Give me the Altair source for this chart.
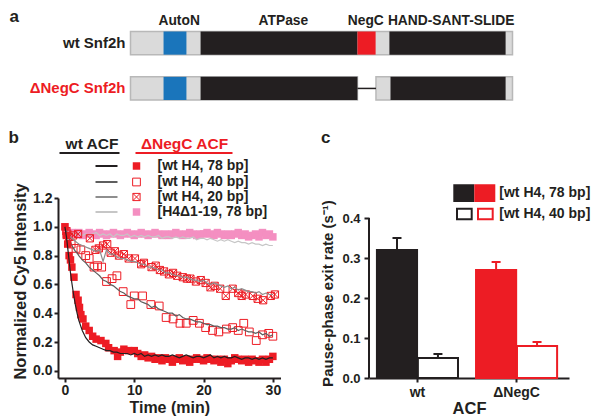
import altair as alt
import pandas as pd

FONT = "Liberation Sans"
BLACK = "#231f20"
RED = "#ed1c24"
BLUE = "#1a75bb"
PINK = "#f48fc1"
G_DARK = "#5e5e5e"
G_MID = "#8e8e8e"
G_LIGHT = "#c6c6c6"
BG_FILL = "#dadada"
BG_STROKE = "#b8b8b8"

# ---------------- panel a : domain diagram (residue coordinates) ----------------
CONSTRUCTS = ["wt Snf2h", "ΔNegC Snf2h"]
BG_CONSTRUCT = ["wt Snf2h", "ΔNegC Snf2h", "ΔNegC Snf2h"]
BG_START = [0, 0, 676]
BG_END = [1052, 625, 1052]
DOMAIN_NAMES = ["AutoN", "ATPase", "NegC", "HAND-SANT-SLIDE"]
HEADER_POS = [134, 421, 648, 883]          # label anchors, residue units
DOM_CONSTRUCT = ["wt Snf2h", "wt Snf2h", "wt Snf2h", "wt Snf2h",
                 "ΔNegC Snf2h", "ΔNegC Snf2h", "ΔNegC Snf2h"]
DOM_NAME = ["AutoN", "ATPase", "NegC", "HAND-SANT-SLIDE",
            "AutoN", "ATPase", "HAND-SANT-SLIDE"]
DOM_START = [91, 193, 625, 713, 91, 193, 716]
DOM_END = [154, 625, 675, 1033, 154, 625, 1033]
LINK_CONSTRUCT = ["ΔNegC Snf2h"]
LINK_START = [625]
LINK_END = [676]

# ---------------- panel b : kinetics ----------------
ACF_HEADERS = ["wt ACF", "ΔNegC ACF"]
SERIES = ["[wt H4, 78 bp]", "[wt H4, 40 bp]", "[wt H4, 20 bp]", "[H4Δ1-19, 78 bp]"]
LINE_T = [0, 0.25, 0.5, 0.75, 1, 1.25, 1.5, 1.75, 2, 2.5,
          3, 3.5, 4, 4.5, 5, 5.5, 6, 6.5, 7, 7.5,
          8, 8.5, 9, 9.5, 10, 10.5, 11, 11.5, 12, 12.5,
          13, 13.5, 14, 14.5, 15, 15.5, 16, 16.5, 17, 17.5,
          18, 18.5, 19, 19.5, 20, 20.5, 21, 21.5, 22, 22.5,
          23, 23.5, 24, 24.5, 25, 25.5, 26, 26.5, 27, 27.5,
          28, 28.5, 29, 29.5, 30]
WT_78 = [1.00, 0.92, 0.81, 0.70, 0.61, 0.53, 0.46, 0.40, 0.35, 0.28,
         0.23, 0.20, 0.18, 0.17, 0.16, 0.15, 0.14, 0.14, 0.13, 0.13,
         0.12, 0.12, 0.12, 0.11, 0.12, 0.11, 0.12, 0.10, 0.11, 0.10,
         0.11, 0.10, 0.11, 0.10, 0.10, 0.11, 0.10, 0.09, 0.10, 0.11,
         0.10, 0.09, 0.10, 0.10, 0.09, 0.10, 0.11, 0.09, 0.10, 0.09,
         0.10, 0.09, 0.09, 0.10, 0.09, 0.08, 0.09, 0.09, 0.08, 0.09,
         0.08, 0.09, 0.08, 0.09, 0.09]
WT_40 = [1.00, 0.96, 0.93, 0.90, 0.87, 0.85, 0.83, 0.82, 0.80, 0.77,
         0.75, 0.72, 0.70, 0.68, 0.66, 0.63, 0.62, 0.60, 0.59, 0.57,
         0.55, 0.54, 0.52, 0.51, 0.50, 0.50, 0.48, 0.47, 0.46, 0.44,
         0.45, 0.43, 0.42, 0.41, 0.40, 0.40, 0.38, 0.39, 0.37, 0.36,
         0.36, 0.35, 0.34, 0.34, 0.33, 0.32, 0.32, 0.31, 0.31, 0.30,
         0.30, 0.29, 0.29, 0.30, 0.28, 0.29, 0.28, 0.27, 0.27, 0.26,
         0.27, 0.25, 0.26, 0.24, 0.25]
WT_20 = [1.00, 0.97, 0.95, 0.93, 0.92, 0.91, 0.90, 0.89, 0.88, 0.87,
         0.86, 0.85, 0.84, 0.83, 0.84, 0.76, 0.84, 0.81, 0.81, 0.79,
         0.78, 0.78, 0.77, 0.76, 0.76, 0.75, 0.74, 0.74, 0.72, 0.72,
         0.71, 0.70, 0.70, 0.68, 0.68, 0.67, 0.66, 0.66, 0.65, 0.65,
         0.64, 0.63, 0.63, 0.62, 0.63, 0.61, 0.60, 0.61, 0.60, 0.59,
         0.58, 0.59, 0.57, 0.58, 0.56, 0.57, 0.56, 0.55, 0.55, 0.54,
         0.55, 0.53, 0.54, 0.53, 0.53]
WT_D19 = [1.00, 0.97, 0.96, 0.95, 0.96, 0.95, 0.94, 0.95, 0.96, 0.94,
          0.95, 0.94, 0.95, 0.96, 0.94, 0.95, 0.94, 0.95, 0.93, 0.95,
          0.94, 0.94, 0.95, 0.93, 0.94, 0.93, 0.94, 0.93, 0.94, 0.93,
          0.93, 0.94, 0.92, 0.93, 0.93, 0.92, 0.93, 0.92, 0.93, 0.92,
          0.92, 0.93, 0.91, 0.92, 0.92, 0.91, 0.92, 0.91, 0.90, 0.91,
          0.90, 0.91, 0.90, 0.89, 0.90, 0.89, 0.89, 0.88, 0.89, 0.88,
          0.88, 0.87, 0.88, 0.87, 0.87]

NEGC_78_T = [0, 0.2, 0.4, 0.6, 0.8, 1.0, 1.3, 1.6, 1.9, 2.1,
             2.3, 2.6, 3.0, 3.5, 4.0, 4.5, 5.2, 5.9, 6.3, 7.1,
             7.6, 8.0, 8.5, 9.2, 10.0, 10.5, 11.0, 11.5, 12.0, 12.5,
             13.0, 13.5, 14.0, 14.5, 15.0, 15.5, 16.0, 16.5, 17.0, 17.5,
             18.0, 18.5, 19.0, 19.5, 20.0, 20.5, 21.0, 21.5, 22.0, 22.5,
             23.0, 23.5, 24.0, 24.5, 25.0, 25.5, 26.0, 26.5, 27.0, 27.5,
             28.0, 28.5, 29.0, 29.5, 30.0]
NEGC_78_V = [1.00, 0.94, 0.88, 0.80, 0.77, 0.72, 0.65, 0.53, 0.49, 0.44,
             0.39, 0.36, 0.31, 0.28, 0.24, 0.22, 0.21, 0.19, 0.16, 0.14,
             0.10, 0.13, 0.15, 0.14, 0.14, 0.12, 0.10, 0.11, 0.09, 0.10,
             0.08, 0.09, 0.07, 0.09, 0.08, 0.06, 0.08, 0.09, 0.07, 0.08,
             0.06, 0.08, 0.09, 0.08, 0.07, 0.09, 0.08, 0.07, 0.08, 0.06,
             0.08, 0.05, 0.07, 0.09, 0.08, 0.07, 0.08, 0.06, 0.08, 0.07,
             0.06, 0.08, 0.06, 0.08, 0.10]
NEGC_40_T = [0.3, 0.9, 1.6, 2.3, 3.0, 3.5, 4.2, 4.7, 5.3, 6.0,
             6.8, 7.5, 8.4, 9.5, 10.0, 11.2, 12.4, 13.6, 14.6, 15.6,
             16.6, 17.5, 18.5, 19.4, 20.3, 21.3, 22.2, 23.3, 24.2, 25.0,
             25.8, 26.6, 27.6, 28.5, 29.4, 30.0]
NEGC_40_V = [0.95, 0.88, 0.85, 0.84, 0.80, 0.78, 0.72, 0.73, 0.72, 0.62,
             0.64, 0.66, 0.55, 0.46, 0.52, 0.52, 0.46, 0.45, 0.37, 0.36,
             0.33, 0.33, 0.35, 0.33, 0.30, 0.28, 0.27, 0.29, 0.30, 0.28,
             0.33, 0.27, 0.21, 0.25, 0.26, 0.24]
NEGC_20_T = [0.2, 0.6, 1.2, 1.9, 3.6, 4.4, 4.9, 5.5, 6.1, 6.6,
             7.2, 7.8, 8.5, 9.2, 10.1, 11.0, 11.4, 12.5, 13.1, 13.7,
             14.3, 15.0, 15.6, 16.2, 17.0, 17.6, 18.1, 18.9, 19.6, 20.3,
             21.0, 21.6, 22.4, 23.2, 24.2, 25.0, 25.5, 26.1, 27.1, 27.8,
             28.6, 29.7, 30.3]
NEGC_20_V = [0.97, 0.93, 0.94, 0.95, 0.92, 0.84, 0.85, 0.87, 0.88, 0.82,
             0.83, 0.80, 0.81, 0.78, 0.78, 0.74, 0.75, 0.72, 0.73, 0.70,
             0.69, 0.67, 0.68, 0.66, 0.65, 0.64, 0.64, 0.62, 0.63, 0.61,
             0.58, 0.59, 0.57, 0.52, 0.57, 0.54, 0.52, 0.53, 0.52, 0.50,
             0.49, 0.52, 0.53]
NEGC_D19_T = [0, 0.3, 0.6, 1, 1.5, 2, 2.5, 3, 3.5, 4,
              4.5, 5, 5.5, 6, 6.5, 7, 7.5, 8, 8.5, 9,
              9.5, 10, 10.5, 11, 11.5, 12, 12.5, 13, 13.5, 14,
              14.5, 15, 15.5, 16, 16.5, 17, 17.5, 18, 18.5, 19,
              19.5, 20, 20.5, 21, 21.5, 22, 22.5, 23, 23.5, 24,
              24.5, 25, 25.5, 26, 26.5, 27, 27.5, 28, 28.5, 29,
              29.5, 30]
NEGC_D19_V = [1.00, 0.97, 0.95, 0.96, 0.95, 0.96, 0.94, 0.95, 0.96, 0.95,
              0.94, 0.96, 0.95, 0.94, 0.95, 0.96, 0.95, 0.94, 0.95, 0.96,
              0.95, 0.94, 0.95, 0.96, 0.95, 0.94, 0.95, 0.96, 0.95, 0.94,
              0.95, 0.94, 0.95, 0.96, 0.95, 0.94, 0.95, 0.96, 0.95, 0.94,
              0.95, 0.95, 0.96, 0.95, 0.94, 0.96, 0.95, 0.94, 0.95, 0.94,
              0.95, 0.96, 0.94, 0.95, 0.93, 0.94, 0.95, 0.93, 0.96, 0.94,
              0.95, 0.93]
B_X_TICKS = [0, 10, 20, 30]
B_Y_TICKS = [0.0, 0.2, 0.4, 0.6, 0.8, 1.0, 1.2]

# ---------------- panel c : bar chart ----------------
C_ACF = ["wt", "wt", "ΔNegC", "ΔNegC"]
C_DNA = ["78 bp", "40 bp", "78 bp", "40 bp"]
C_RATE = [0.32, 0.05, 0.27, 0.08]
C_ERR = [0.03, 0.01, 0.02, 0.01]
C_LEGEND = ["[wt H4, 78 bp]", "[wt H4, 40 bp]"]
C_Y_TICKS = [0.0, 0.1, 0.2, 0.3, 0.4]
PANEL_LETTERS = ["a", "b", "c"]

CROSS_PATH = "M-1,-1L1,-1L1,1L-1,1Z M-1,-1L1,1 M1,-1L-1,1"
one = pd.DataFrame({"k": [0]})


def text_layer(label, x, y, size=14, color=BLACK, align="left", baseline="middle"):
    return alt.Chart(pd.DataFrame({"label": [label]})).mark_text(
        font=FONT, fontWeight="bold", fontSize=size, color=color,
        align=align, baseline=baseline).encode(
        x=alt.value(x), y=alt.value(y), text="label:N")


def rule_layer(x1, x2, y, color, width=2):
    return alt.Chart(one).mark_rule(color=color, strokeWidth=width).encode(
        x=alt.value(x1), x2=alt.value(x2), y=alt.value(y))


# ===== panel a layers (own scales, drawn above panel b) =====
a_x = alt.Scale(domain=[0, 1052], range=[72.5, 454.5], nice=False, zero=False)
a_y = alt.Scale(domain=CONSTRUCTS, range=[-166.5, -98], paddingInner=0.49, paddingOuter=0)

bg_df = pd.DataFrame({"construct": BG_CONSTRUCT, "start": BG_START, "end": BG_END})
dom_df = pd.DataFrame({"construct": DOM_CONSTRUCT, "name": DOM_NAME,
                       "start": DOM_START, "end": DOM_END})
link_df = pd.DataFrame({"construct": LINK_CONSTRUCT, "start": LINK_START, "end": LINK_END})
con_df = pd.DataFrame({"construct": CONSTRUCTS})
head_df = pd.DataFrame({"name": DOMAIN_NAMES, "pos": HEADER_POS})

a_bg = alt.Chart(bg_df).mark_rect(fill=BG_FILL, stroke=BG_STROKE, strokeWidth=1.5).encode(
    x=alt.X("start:Q", scale=a_x, axis=None), x2="end:Q",
    y=alt.Y("construct:N", scale=a_y, axis=None))
a_dom = alt.Chart(dom_df).mark_rect().encode(
    x=alt.X("start:Q", scale=a_x, axis=None), x2="end:Q",
    y=alt.Y("construct:N", scale=a_y, axis=None),
    fill=alt.Fill("name:N", scale=alt.Scale(domain=DOMAIN_NAMES,
                                            range=[BLUE, BLACK, RED, BLACK]), legend=None))
a_link = alt.Chart(link_df).mark_rule(color=BLACK, strokeWidth=1.5).encode(
    x=alt.X("start:Q", scale=a_x, axis=None), x2="end:Q",
    y=alt.Y("construct:N", scale=a_y, axis=None))
a_head = alt.Chart(head_df).mark_text(
    font=FONT, fontWeight="bold", fontSize=13.8, color=BLACK, baseline="middle").encode(
    x=alt.X("pos:Q", scale=a_x, axis=None), y=alt.value(-177), text="name:N")
a_lab = alt.Chart(con_df).mark_text(
    font=FONT, fontWeight="bold", fontSize=15, align="right", baseline="middle").encode(
    x=alt.value(67.5), y=alt.Y("construct:N", scale=a_y, axis=None), text="construct:N",
    color=alt.Color("construct:N", scale=alt.Scale(domain=CONSTRUCTS, range=[BLACK, RED]),
                    legend=None))
a_letter = text_layer(PANEL_LETTERS[0], -48.5, -176, size=17, baseline="alphabetic")
A = alt.layer(a_bg, a_dom, a_link, a_head, a_lab, a_letter)

# ===== panel b =====
bx = alt.Scale(domain=[-1.0, 31.1], nice=False, zero=False)
by = alt.Scale(domain=[-0.05, 1.2], nice=False, zero=False)
X_ENC = alt.X("t:Q", scale=bx, axis=alt.Axis(
    orient="bottom", values=B_X_TICKS, title="Time (min)", labelPadding=1, titlePadding=2,
    labelFontSize=14, titleFontSize=16))
Y_ENC = alt.Y("v:Q", scale=by, axis=alt.Axis(
    orient="left", values=B_Y_TICKS, format=".1f", title="Normalized Cy5 Intensity",
    labelPadding=2, titlePadding=4, labelFontSize=14, titleFontSize=16.5, titleY=83))

wt_series = [WT_78, WT_40, WT_20, WT_D19]
line_colors = [BLACK, G_DARK, G_MID, G_LIGHT]


def line_layer(i):
    df = pd.DataFrame({"t": LINE_T, "v": wt_series[i]})
    return alt.Chart(df).mark_line(color=line_colors[i], strokeWidth=1.2).encode(x=X_ENC, y=Y_ENC)


marker_data = [(NEGC_78_T, NEGC_78_V), (NEGC_40_T, NEGC_40_V),
               (NEGC_20_T, NEGC_20_V), (NEGC_D19_T, NEGC_D19_V)]
marker_styles = [dict(shape="square", filled=True, color=RED, size=56),
                 dict(shape="square", filled=False, color=RED, size=60, strokeWidth=1),
                 dict(shape=CROSS_PATH, filled=False, color=RED, size=52, strokeWidth=1),
                 dict(shape="square", filled=True, color=PINK, size=56)]


def marker_layer(i):
    t, v = marker_data[i]
    df = pd.DataFrame({"t": t, "v": v})
    return alt.Chart(df).mark_point(opacity=1, **marker_styles[i]).encode(x=X_ENC, y=Y_ENC)


data_layers = [marker_layer(3), line_layer(3), marker_layer(2), marker_layer(1),
               line_layer(2), line_layer(1), marker_layer(0), line_layer(0)]

legend_rows = [-32, -16, -1, 14]
legend_layers = []
for i, lab in enumerate(SERIES):
    legend_layers.append(rule_layer(37.5, 59.5, legend_rows[i], line_colors[i], 2))
    legend_layers.append(alt.Chart(one).mark_point(opacity=1, **marker_styles[i]).encode(
        x=alt.value(78.5), y=alt.value(legend_rows[i])))
    legend_layers.append(text_layer(lab, 99.5, legend_rows[i], size=14))

head_layers = [
    text_layer(ACF_HEADERS[0], 34, -54, size=15.5, align="center"),
    text_layer(ACF_HEADERS[1], 126.5, -54, size=15.5, color=RED, align="center"),
    rule_layer(1.5, 61.5, -45, BLACK, 2),
    rule_layer(77.5, 174.5, -45, RED, 2),
    text_layer(PANEL_LETTERS[1], -49.5, -55, size=17, baseline="alphabetic"),
]

B_main = alt.layer(*data_layers, *legend_layers, *head_layers)
B = alt.layer(B_main, A).resolve_scale(
    x="independent", y="independent", color="independent", fill="independent"
).properties(width=222.5, height=180)

# ===== panel c =====
c_df = pd.DataFrame({"acf": C_ACF, "dna": C_DNA, "rate": C_RATE, "err": C_ERR})
ACF_ORDER = ["wt", "ΔNegC"]
KEYS = ["wt|78 bp", "wt|40 bp", "ΔNegC|78 bp", "ΔNegC|40 bp"]
cx = alt.Scale(domain=ACF_ORDER, paddingInner=0.182, paddingOuter=0.1, align=0.4)
cy = alt.Scale(domain=[0, 0.45], nice=False, zero=False)
cxo = alt.Scale(domain=["78 bp", "40 bp"], paddingInner=0.02, paddingOuter=0)
CX = alt.X("acf:N", scale=cx, sort=ACF_ORDER, axis=alt.Axis(
    title="ACF", labelAngle=0, labelFontSize=14, titleFontSize=16.5, tickSize=4,
    labelPadding=3, titlePadding=1))
CXO = alt.XOffset("dna:N", scale=cxo, sort=["78 bp", "40 bp"])
CY = alt.Y("rate:Q", scale=cy, axis=alt.Axis(
    values=C_Y_TICKS, format=".1f", domain=False, title="Pause-phase exit rate (s⁻¹)",
    labelFontSize=13, titleFontSize=15, tickSize=5, labelPadding=4, titlePadding=6,
    titleY=95))

bars = alt.Chart(c_df).transform_calculate(key="datum.acf + '|' + datum.dna").mark_bar(
    strokeWidth=2).encode(
    x=CX, xOffset=CXO, y=CY,
    fill=alt.Fill("key:N", scale=alt.Scale(domain=KEYS, range=[BLACK, "#ffffff", RED, "#ffffff"]),
                  legend=None),
    stroke=alt.Stroke("key:N", scale=alt.Scale(domain=KEYS, range=[BLACK, BLACK, RED, RED]),
                      legend=None))
ecol = alt.Color("acf:N", scale=alt.Scale(domain=ACF_ORDER, range=[BLACK, RED]), legend=None)
err_stem = alt.Chart(c_df).transform_calculate(hi="datum.rate + datum.err").mark_rule(
    strokeWidth=2).encode(x=CX, xOffset=CXO, y=CY, y2="hi:Q", color=ecol)
err_cap = alt.Chart(c_df).transform_calculate(hi="datum.rate + datum.err").mark_tick(
    size=9, thickness=2, opacity=1).encode(
    x=CX, xOffset=CXO, y=alt.Y("hi:Q", scale=cy), color=ecol)
y_line = alt.Chart(one).mark_rule(color=BLACK, strokeWidth=2).encode(
    x=alt.value(0), y=alt.datum(0, scale=cy), y2=alt.datum(0.4))


def box(x1, x2, y1, y2, fill, stroke):
    return alt.Chart(one).mark_rect(fill=fill, stroke=stroke, strokeWidth=2).encode(
        x=alt.value(x1), x2=alt.value(x2), y=alt.value(y1), y2=alt.value(y2))


c_leg = [
    box(85.3, 104.3, -12.7, 3, BLACK, BLACK),
    box(106.3, 125.3, -12.7, 3, RED, RED),
    box(88, 102.7, 10.7, 21.3, "#ffffff", BLACK),
    box(109, 123.7, 10.7, 21.3, "#ffffff", RED),
    text_layer(C_LEGEND[0], 130.3, -5, size=14),
    text_layer(C_LEGEND[1], 130.3, 16.3, size=14),
    text_layer(PANEL_LETTERS[2], -48, -55, size=17, baseline="alphabetic"),
]

C = alt.layer(bars, err_stem, err_cap, y_line, *c_leg).properties(width=200, height=180)

chart = alt.hconcat(B, C, spacing=88, bounds="flush").properties(
    padding=0
).configure_view(stroke=None).configure_axis(
    labelFont=FONT, titleFont=FONT, labelFontWeight="bold", titleFontWeight="bold",
    labelColor=BLACK, titleColor=BLACK, domainColor=BLACK, tickColor=BLACK,
    domainWidth=2, tickWidth=2, tickSize=4, grid=False
)

chart.save("out.html", embed_options={"renderer": "svg", "actions": False})
